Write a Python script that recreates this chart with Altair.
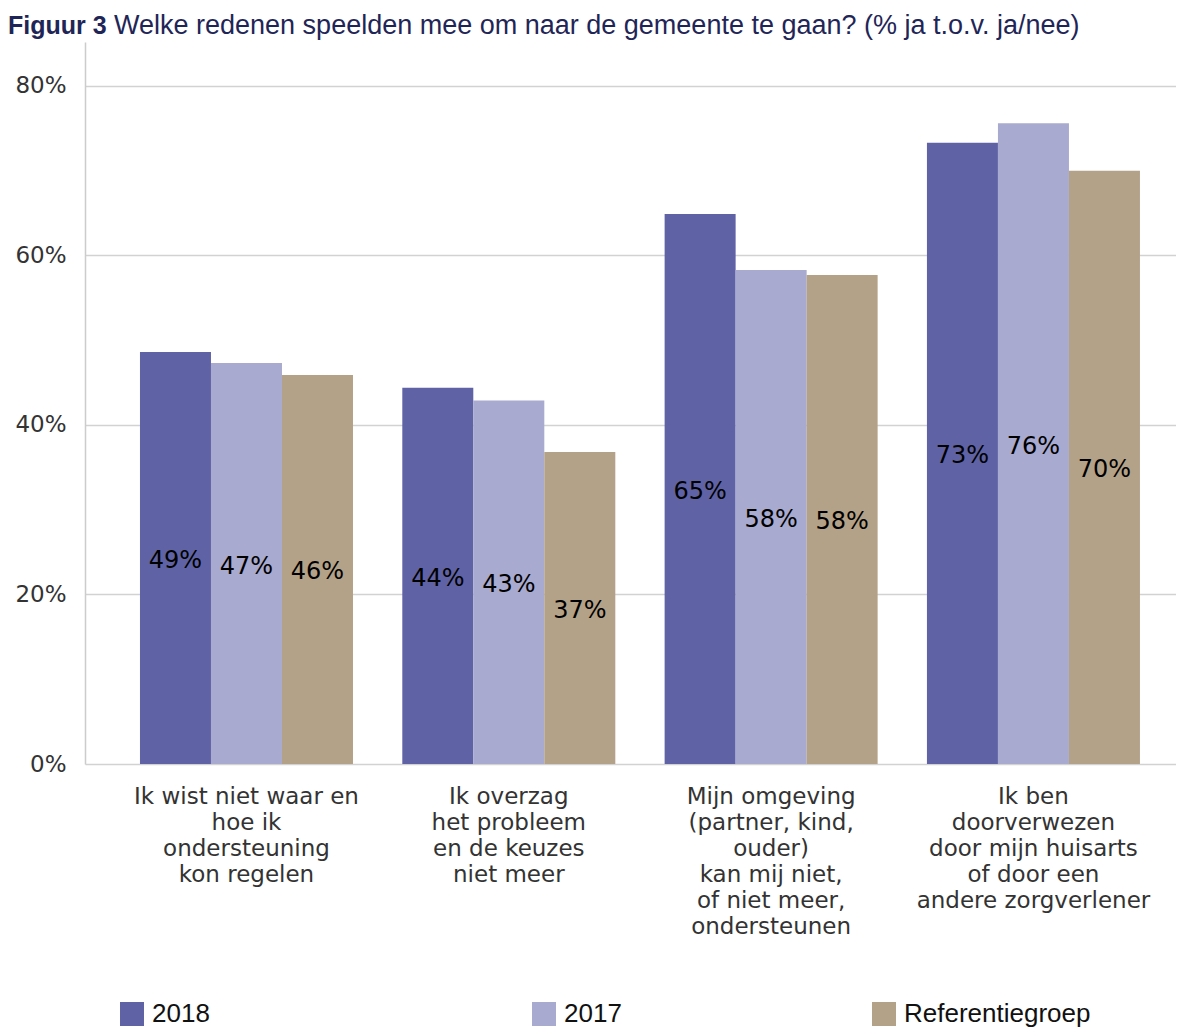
import altair as alt
import pandas as pd

# ---- data ----
categories = [
    "Ik wist niet waar en|hoe ik|ondersteuning|kon regelen",
    "Ik overzag|het probleem|en de keuzes|niet meer",
    "Mijn omgeving|(partner, kind,|ouder)|kan mij niet,|of niet meer,|ondersteunen",
    "Ik ben|doorverwezen|door mijn huisarts|of door een|andere zorgverlener",
]
series = ["2018", "2017", "Referentiegroep"]
values_2018 = [48.6, 44.4, 64.9, 73.3]
values_2017 = [47.3, 42.9, 58.3, 75.6]
values_ref = [45.9, 36.8, 57.7, 70.0]
colors = ["#5F63A6", "#A8AACF", "#B4A288"]
y_ticks = [0, 20, 40, 60, 80]

title_prefix = "Figuur 3"
title_text = "Welke redenen speelden mee om naar de gemeente te gaan? (% ja t.o.v. ja/nee)"

rows = []
for s, vals in zip(series, [values_2018, values_2017, values_ref]):
    for c, v in zip(categories, vals):
        rows.append({"category": c, "series": s, "value": v})
df = pd.DataFrame(rows)

PLOT_TOP = 34          # padding above the plot area
PLOT_H = 722
PLOT_W = 1091
Y_MAX = 85.19

x_axis = alt.Axis(
    title=None,
    labelExpr="split(datum.label, '|')",
    labelAngle=0,
    ticks=False,
    domain=False,
    grid=False,
    labelFont="DejaVu Sans",
    labelFontSize=23,
    labelColor="#333333",
    labelLineHeight=26,
    labelPadding=21,
    labelLimit=400,
    labelOverlap=False,
    labelBound=False,
)
x_scale = alt.Scale(paddingInner=0.188, paddingOuter=0.1735, align=0.604)
xoff_scale = alt.Scale(domain=series, paddingInner=0, paddingOuter=0)
y_scale = alt.Scale(domain=[0, Y_MAX], nice=False, zero=True)
y_axis = alt.Axis(
    title=None,
    values=y_ticks,
    labelExpr="datum.value + '%'",
    grid=True,
    gridColor="#d2d2d2",
    gridWidth=1.5,
    domain=True,
    domainColor="#cccccc",
    domainWidth=1.5,
    ticks=False,
    labelFont="DejaVu Sans",
    labelFontSize=23,
    labelColor="#333333",
    labelPadding=19,
)

legend_x = [34, 446, 786]

bar_layers = []
for i, (s, col) in enumerate(zip(series, colors)):
    layer = alt.Chart(df).transform_filter(
        alt.datum.series == s
    ).mark_bar().encode(
        x=alt.X("category:N", sort=categories, scale=x_scale, axis=x_axis),
        xOffset=alt.XOffset("series:N", sort=series, scale=xoff_scale),
        y=alt.Y("value:Q", scale=y_scale, axis=y_axis),
        color=alt.Color(
            "series:N",
            scale=alt.Scale(domain=[s], range=[col]),
            legend=alt.Legend(
                orient="none",
                legendX=legend_x[i],
                legendY=959,
                direction="horizontal",
                title=None,
                symbolType="square",
                symbolSize=576,
                symbolStrokeWidth=0,
                symbolOpacity=1,
                labelFont="Liberation Sans",
                labelFontSize=26,
                labelColor="#111111",
                labelOffset=7,
                labelLimit=500,
                padding=0,
            ),
        ),
    )
    bar_layers.append(layer)

labels = alt.Chart(df).transform_calculate(
    half="datum.value / 2",
    label="round(datum.value) + '%'",
).mark_text(font="DejaVu Sans", fontSize=24, color="#000000", baseline="middle", align="center", dy=3).encode(
    x=alt.X("category:N", sort=categories, scale=x_scale, axis=x_axis),
    xOffset=alt.XOffset("series:N", sort=series, scale=xoff_scale),
    y=alt.Y("half:Q", scale=y_scale, axis=y_axis),
    text="label:N",
)

one = alt.Data(values=[{"k": 1}])
title_a = alt.Chart(one).mark_text(
    text=title_prefix, font="Liberation Sans", fontWeight="bold", fontSize=25,
    align="left", baseline="alphabetic", color="#1F2657",
).encode(x=alt.value(-77), y=alt.value(-8))
title_b = alt.Chart(one).mark_text(
    text=title_text, font="Liberation Sans", fontSize=27,
    align="left", baseline="alphabetic", color="#1F2657",
).encode(x=alt.value(29), y=alt.value(-8))

chart = alt.layer(*bar_layers, labels, title_a, title_b).resolve_scale(
    color="independent"
).properties(
    width=PLOT_W,
    height=PLOT_H,
    autosize=alt.AutoSizeParams(type="none"),
    padding={"left": 77, "top": PLOT_TOP, "right": 0, "bottom": 265},
).configure_view(stroke=None)

chart.save("out.html", embed_options={"renderer": "svg", "actions": False})
